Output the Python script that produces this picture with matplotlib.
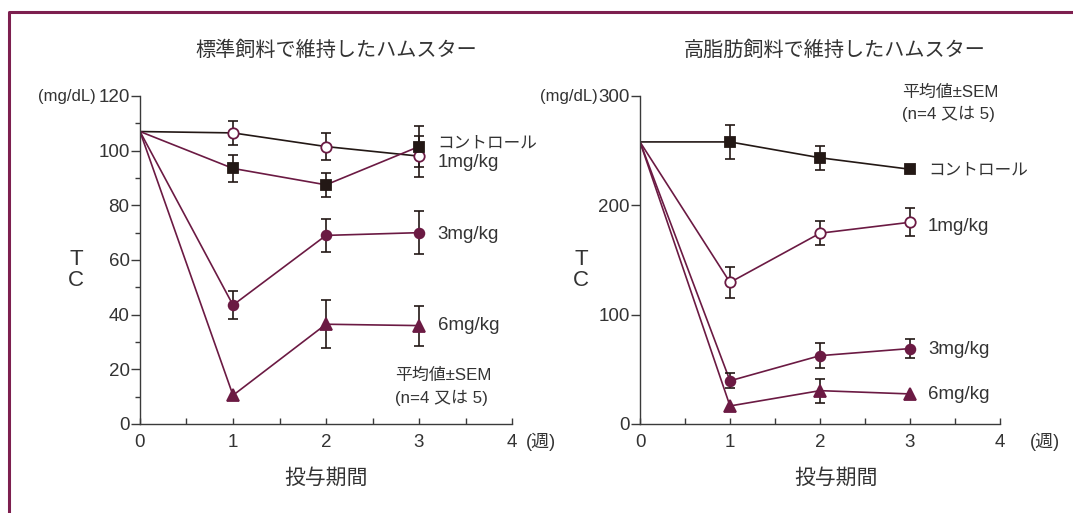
import matplotlib
matplotlib.use("Agg")
from matplotlib import pyplot as plt
from matplotlib.lines import Line2D
from matplotlib.ticker import MultipleLocator
import numpy as np

plt.rcParams['font.family'] = ['Liberation Sans', 'Noto Sans CJK JP', 'DejaVu Sans']

maroon = '#6b1a43'
black = '#231815'
frameColor = '#7d1f4f'

weeks = [0, 1, 2, 3]

# 標準飼料
stdTitle = '標準飼料で維持したハムスター'
stdBlackLine = [107, 106.5, 101.5, 98]      # drawn with open circles
stdBlackErr = [0, 4.5, 5, 7.5]
stdPurpleLine = [107, 93.5, 87.5, 101.5]    # drawn with black squares
stdPurpleErr = [0, 5, 4.5, 7.5]
std3mg = [107, 43.5, 69, 70]
std3mgErr = [0, 5, 6, 7.8]
std6mg = [107, 10.5, 36.5, 36]
std6mgErr = [0, 0, 8.8, 7.3]

# 高脂肪飼料
hfTitle = '高脂肪飼料で維持したハムスター'
hfControl = [258, 258, 243.5, 233]
hfControlErr = [0, 15.5, 11, 0]
hf1mg = [258, 129.5, 174.5, 184.5]
hf1mgErr = [0, 14.5, 11, 13]
hf3mg = [258, 39.5, 62.5, 69]
hf3mgErr = [0, 7, 11.5, 9]
hf6mg = [258, 16.5, 30.5, 27.5]
hf6mgErr = [0, 0, 11, 0]

seriesLabels = ['コントロール', '1mg/kg', '3mg/kg', '6mg/kg']
stdLabelY = [102.8, 95.5, 69.5, 35.9]
hfLabelY = [232.3, 181, 67.7, 27.4]

W, H = 1073, 513
fig = plt.figure(figsize=(W / 100, H / 100), dpi=100)
fig.patch.set_facecolor('white')

# frame at left/top
fig.add_artist(Line2D([9 / W, 9 / W, 1.0], [0.0, 1 - 12 / H, 1 - 12 / H],
                      transform=fig.transFigure, color=frameColor, lw=2.2))


def drawSeries(ax, y, err, lineColor, marker, mface, medge, ms):
    ax.plot(weeks, y, color=lineColor, lw=1.2, zorder=2)
    idx = [i for i in range(len(y)) if err[i] > 0]
    if idx:
        ax.errorbar([weeks[i] for i in idx], [y[i] for i in idx],
                    yerr=[err[i] for i in idx], fmt='none', ecolor=black,
                    elinewidth=1.2, capsize=3.5, capthick=1.2, zorder=3)
    ax.plot(weeks[1:], y[1:], ls='none', marker=marker, ms=ms,
            markerfacecolor=mface, markeredgecolor=medge, mew=1.3, zorder=4)


def setupAxes(ax, ymax, ymajor, yminor):
    ax.set_xlim(0, 4)
    ax.set_ylim(0, ymax)
    for s in ['top', 'right']:
        ax.spines[s].set_visible(False)
    for s in ['left', 'bottom']:
        ax.spines[s].set_color('#3a3a3a')
        ax.spines[s].set_linewidth(1.0)
    ax.xaxis.set_major_locator(MultipleLocator(1))
    ax.xaxis.set_minor_locator(MultipleLocator(0.5))
    ax.yaxis.set_major_locator(MultipleLocator(ymajor))
    if yminor:
        ax.yaxis.set_minor_locator(MultipleLocator(yminor))
    else:
        ax.yaxis.set_minor_locator(plt.NullLocator())
    ax.tick_params(axis='x', which='both', direction='in', length=4, width=1,
                   color='#3a3a3a', labelsize=13.5, pad=7, labelcolor='#333333')
    ax.tick_params(axis='y', which='major', direction='out', length=6.5, width=1,
                   color='#3a3a3a', labelsize=13.5, pad=1, labelcolor='#333333')
    ax.tick_params(axis='y', which='minor', direction='out', length=3.5,
                   width=1, color='#3a3a3a')
    ax.set_facecolor('none')


def labelSize(lab):
    # katakana label is set narrower in the original
    return 12 if lab == 'コントロール' else 13.5


# left panel
ax1 = fig.add_axes([140 / W, 1 - 424 / H, 372 / W, 328 / H])
setupAxes(ax1, 120, 20, 10)
drawSeries(ax1, stdBlackLine, stdBlackErr, black, 'o', 'white', maroon, 7.5)
drawSeries(ax1, stdPurpleLine, stdPurpleErr, maroon, 's', black, black, 7.3)
drawSeries(ax1, std3mg, std3mgErr, maroon, 'o', maroon, maroon, 7)
drawSeries(ax1, std6mg, std6mgErr, maroon, '^', maroon, maroon, 9)
for lab, yy in zip(seriesLabels, stdLabelY):
    ax1.text(3.2, yy, lab, fontsize=labelSize(lab), va='center', ha='left', color='#333333')
ax1.text(2.74, 17.6, '平均値±SEM', fontsize=12.2, va='center', ha='left', color='#333333')
ax1.text(2.74, 9.5, '(n=4 又は 5)', fontsize=12.2, va='center', ha='left', color='#333333')

# right panel
ax2 = fig.add_axes([640 / W, 1 - 424 / H, 360 / W, 328 / H])
setupAxes(ax2, 300, 100, None)
drawSeries(ax2, hfControl, hfControlErr, black, 's', black, black, 7.3)
drawSeries(ax2, hf1mg, hf1mgErr, maroon, 'o', 'white', maroon, 7.5)
drawSeries(ax2, hf3mg, hf3mgErr, maroon, 'o', maroon, maroon, 7)
drawSeries(ax2, hf6mg, hf6mgErr, maroon, '^', maroon, maroon, 9)
for lab, yy in zip(seriesLabels, hfLabelY):
    ax2.text(3.2, yy, lab, fontsize=labelSize(lab), va='center', ha='left', color='#333333')
ax2.text(2.91, 303.6, '平均値±SEM', fontsize=12.2, va='center', ha='left',
         color='#333333', clip_on=False)
ax2.text(2.91, 283.5, '(n=4 又は 5)', fontsize=12.2, va='center', ha='left',
         color='#333333', clip_on=False)

# titles, axis labels
txt = dict(color='#333333', ha='center', va='center')
fig.text(336 / W, 1 - 50 / H, stdTitle, fontsize=14.5, **txt)
fig.text(835 / W, 1 - 50 / H, hfTitle, fontsize=14.5, **txt)
fig.text(326 / W, 1 - 478 / H, '投与期間', fontsize=15, **txt)
fig.text(836 / W, 1 - 478 / H, '投与期間', fontsize=15, **txt)
fig.text(76 / W, 1 - 270 / H, 'T\nC', fontsize=16, linespacing=0.95, **txt)
fig.text(581 / W, 1 - 270 / H, 'T\nC', fontsize=16, linespacing=0.95, **txt)
fig.text(541 / W, 1 - 442 / H, '(週)', fontsize=13, **txt)
fig.text(1045 / W, 1 - 442 / H, '(週)', fontsize=13, **txt)
fig.text(96 / W, 1 - 96 / H, '(mg/dL)', fontsize=12, color='#333333', ha='right', va='center')
fig.text(598 / W, 1 - 96 / H, '(mg/dL)', fontsize=12, color='#333333', ha='right', va='center')

fig.savefig('out.png', dpi=100)
